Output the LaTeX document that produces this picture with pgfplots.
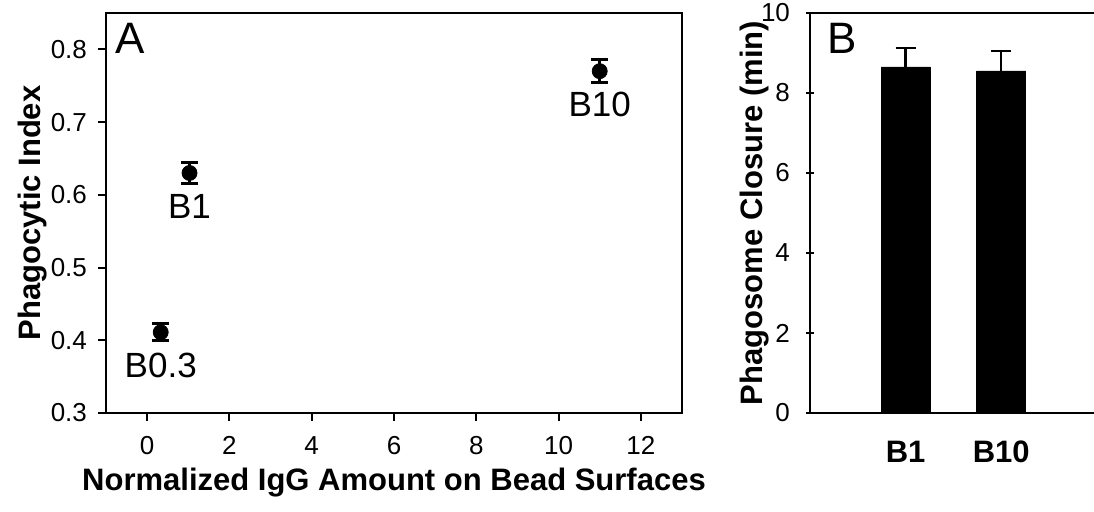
\documentclass[border=0pt]{standalone}
\usepackage{fontspec}
\setmainfont{Liberation Sans}
\usepackage{pgfplots}
\pgfplotsset{compat=1.18}
\usepackage{pgfplotstable}

% Phagocytic index versus normalized IgG amount (mean, s.e.)
\pgfplotstableread{
x     y      e      lab
0.33  0.411  0.012  B0.3
1.03  0.630  0.014  B1
11.0  0.770  0.016  B10
}\phagindex

% Phagosome closure time (mean, s.e.)
\pgfplotstableread{
x  y     e
1  8.65  0.47
2  8.55  0.50
}\closure

\begin{document}
\begin{tikzpicture}
\useasboundingbox (0pt,0pt) rectangle (547pt,256pt);
\pgfplotsset{
  every axis/.append style={
    scale only axis,
    anchor=south west,
    axis line style={line width=1pt},
    tick style={line width=1pt, black},
    major tick length=4pt,
    tick align=outside,
    ticklabel style={font=\fontsize{13}{13}\selectfont},
    /pgf/number format/assume math mode=true,
    label style={font=\bfseries\fontsize{15.5}{15.5}\selectfont},
  }
}
% Panel A
\begin{axis}[
  at={(53pt,49.5pt)}, width=288pt, height=200pt,
  xmin=-1, xmax=13, ymin=0.3, ymax=0.85,
  xtick={0,2,4,6,8,10,12},
  ytick={0.3,0.4,0.5,0.6,0.7,0.8},
  xtick pos=left, ytick pos=left,
  yticklabel style={xshift=-2pt, /pgf/number format/.cd, fixed, fixed zerofill, precision=1},
  xticklabel style={anchor=base, yshift=-17pt},
  xlabel={Normalized IgG Amount on Bead Surfaces},
  ylabel={Phagocytic Index},
  xlabel style={at={(axis description cs:0.5,-0.175)}, anchor=center},
  ylabel style={at={(axis description cs:-0.128,0.5)}, anchor=center},
  point meta=explicit symbolic,
]
\addplot[only marks, mark=*, mark size=3.75pt, black,
  nodes near coords,
  nodes near coords style={anchor=center, yshift=-16.8pt, font=\fontsize{17.5}{17.5}\selectfont},
  error bars/.cd, y dir=both, y explicit,
  error bar style={line width=1.5pt},
  error mark options={rotate=90, mark size=4.25pt, line width=1.5pt}]
  table[x=x, y=y, y error=e, meta=lab] {\phagindex};
\node[anchor=north west, inner sep=0pt, font=\fontsize{22}{22}\selectfont] at (rel axis cs:0.015,0.975) {A};
\end{axis}
% Panel B
\begin{axis}[
  at={(405pt,49.5pt)}, width=142pt, height=200pt,
  ybar, bar width=24.5pt,
  xmin=0, xmax=2.97, ymin=0, ymax=10,
  axis lines=left, axis line style={-},
  ytick={0,2,4,6,8,10},
  yticklabel style={xshift=-4.5pt},
  xtick={1,2}, xticklabels={B1,B10},
  xticklabel style={font=\bfseries\fontsize{15.5}{15.5}\selectfont, anchor=base, yshift=-23pt},
  xtick style={draw=none},
  ylabel={Phagosome Closure (min)},
  ylabel style={at={(axis description cs:-0.194,0.5)}, anchor=center},
]
\addplot[fill=black, draw=black,
  error bars/.cd, y dir=plus, y explicit,
  error bar style={line width=1.2pt},
  error mark options={rotate=90, mark size=5pt, line width=1.2pt}]
  table[x=x, y=y, y error=e] {\closure};
\draw[line width=1pt] (rel axis cs:0,1) -- (rel axis cs:1,1);
\node[anchor=north west, inner sep=0pt, font=\fontsize{22}{22}\selectfont] at (rel axis cs:0.06,0.975) {B};
\end{axis}
\end{tikzpicture}
\end{document}
